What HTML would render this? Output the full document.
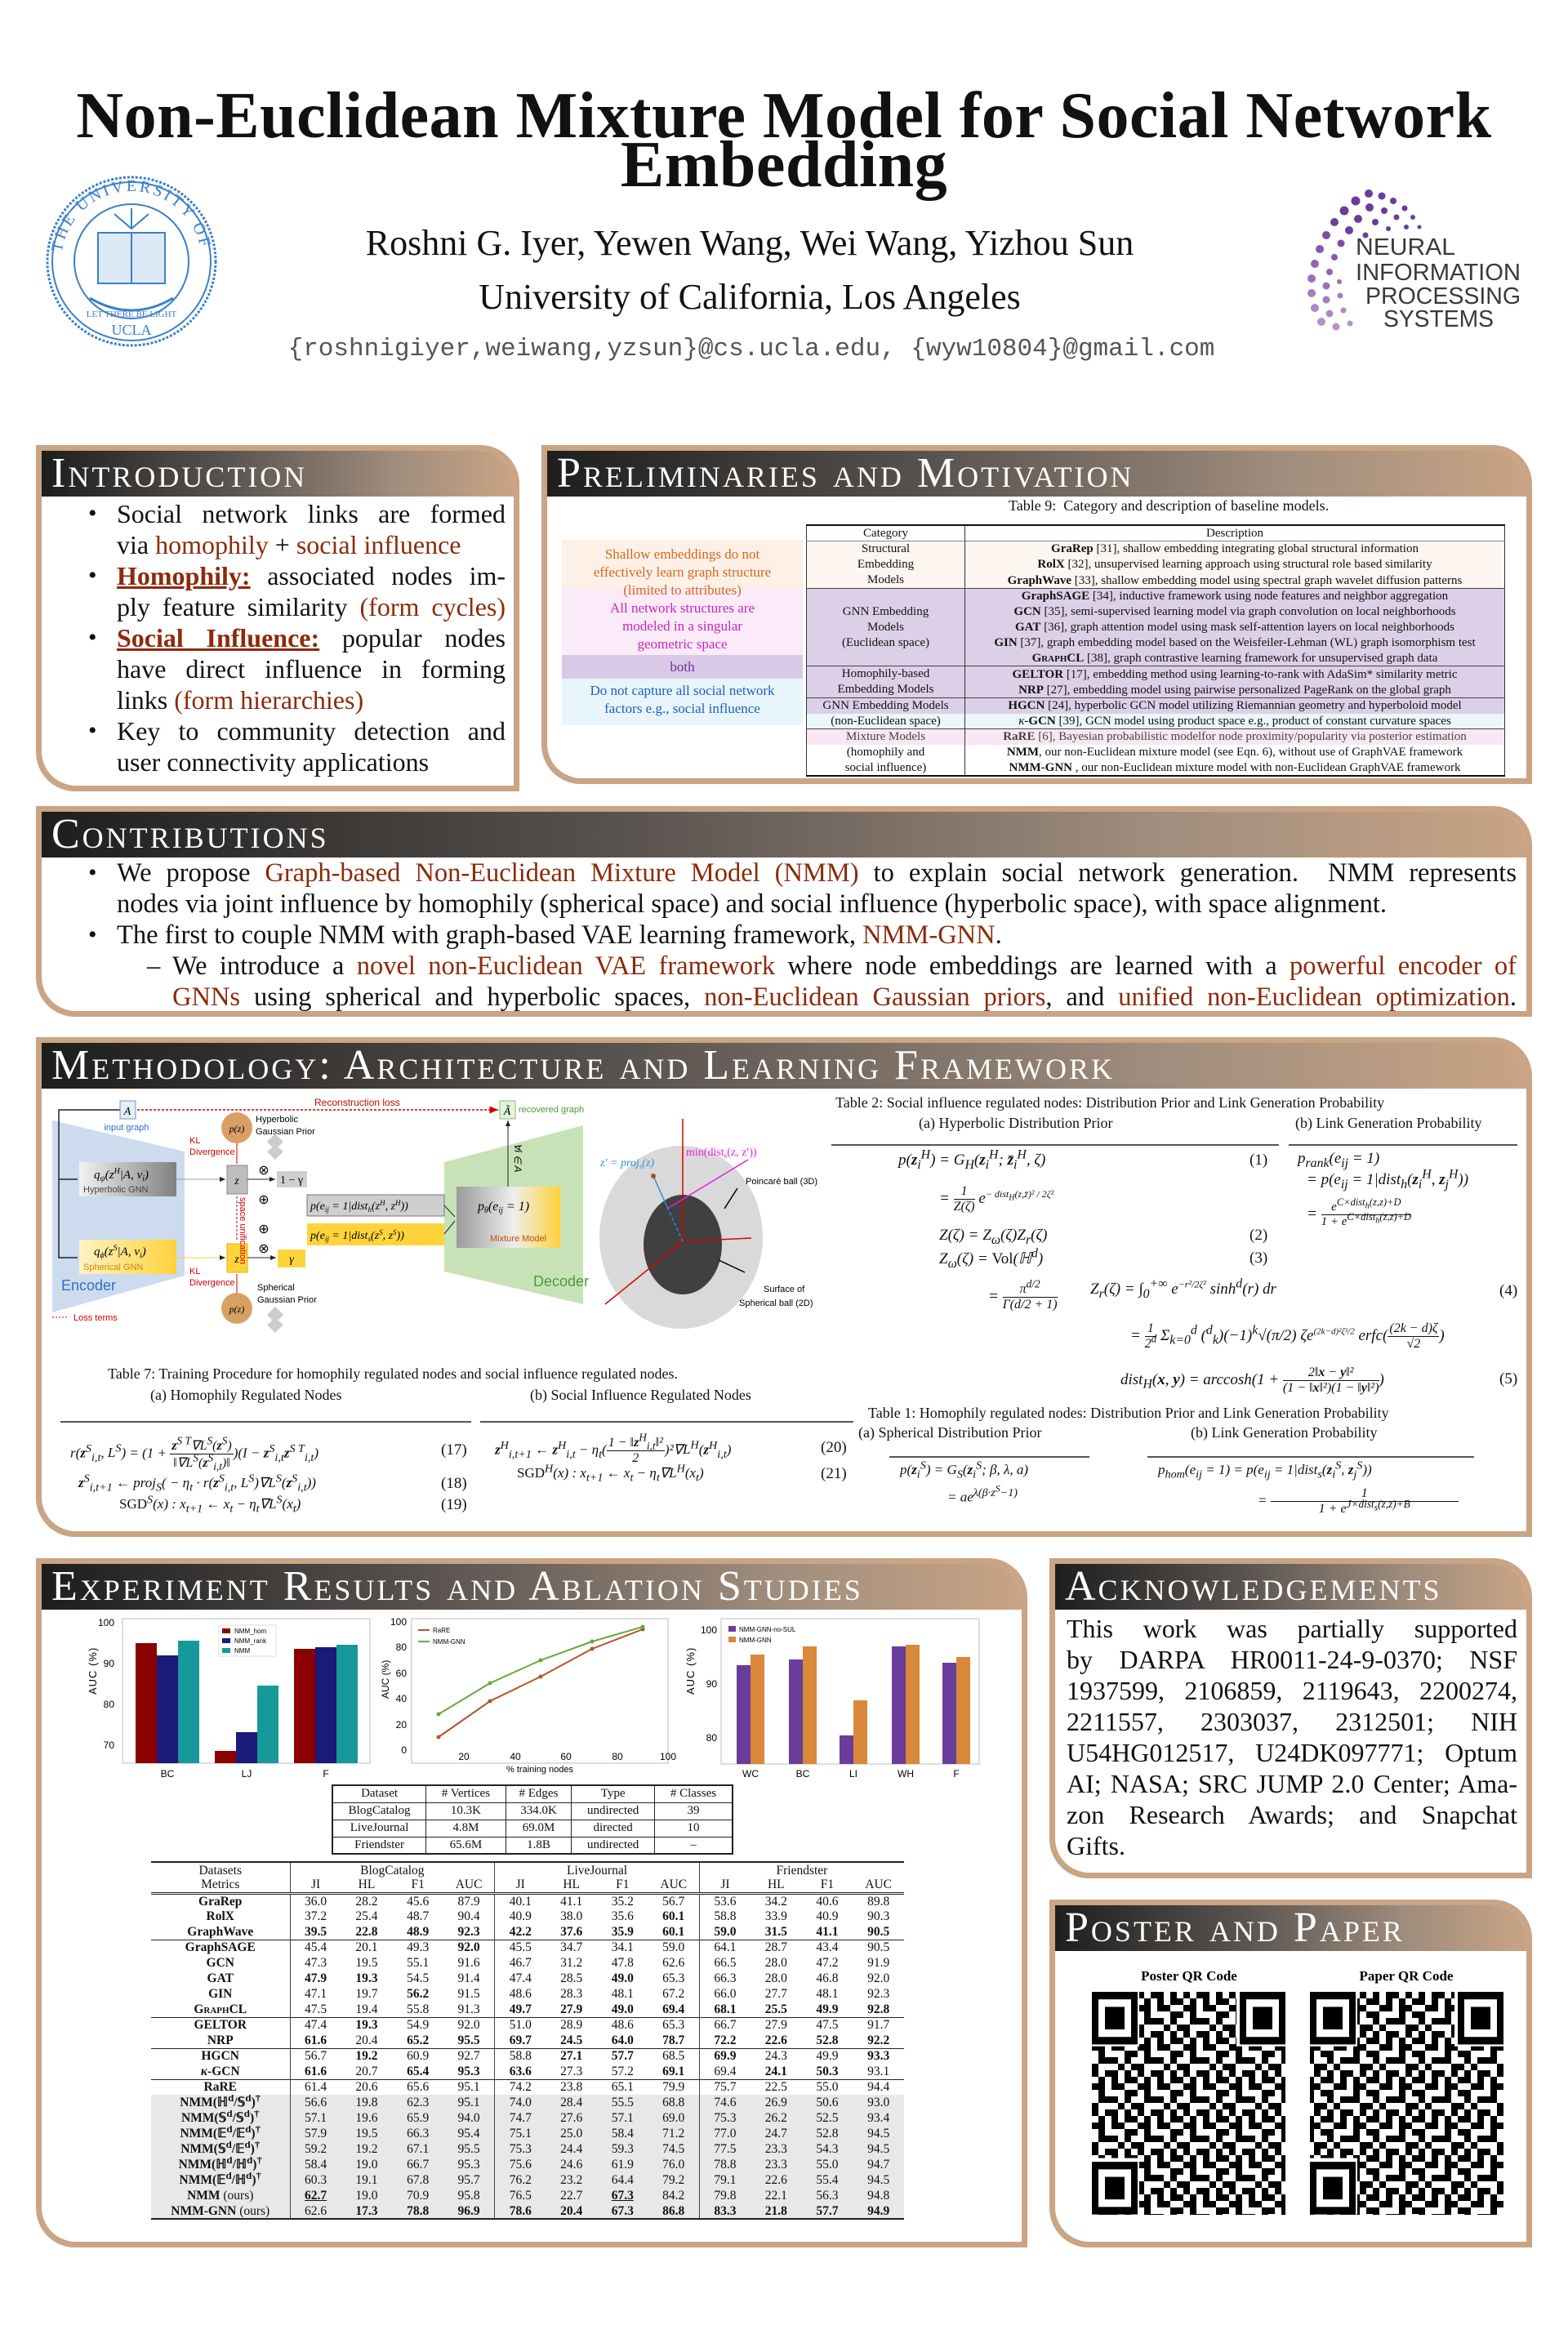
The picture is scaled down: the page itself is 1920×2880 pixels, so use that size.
<!DOCTYPE html>
<html><head><meta charset="utf-8">
<style>
*{margin:0;padding:0;box-sizing:border-box}
body{width:1920px;height:2880px;position:relative;background:#fff;font-family:"Liberation Serif",serif;color:#111;overflow:hidden}
sup,sub{line-height:0}
.a{position:absolute;white-space:nowrap}
.box{position:absolute;background:#c9a485;border-radius:0 48px 0 48px}
.box .in{position:absolute;left:7px;right:7px;top:7px;bottom:7px;background:#fff;border-radius:0 42px 0 42px}
.box .hd{position:absolute;left:7px;right:7px;top:7px;height:56px;border-radius:0 42px 0 0;background:linear-gradient(90deg,#1e1e1e 0%,#5a5450 40%,#a08d7d 75%,#c9a485 100%)}
.box .hd span{position:absolute;left:12px;top:0px;font-size:52px;line-height:56px;color:#fff;font-variant:small-caps;letter-spacing:3px}
.ln{position:absolute;white-space:nowrap;height:38px;line-height:38px}
.j{text-align:justify;text-align-last:justify;white-space:normal}
.r{color:#8b2a0a}
.b{font-weight:bold}
.bul{position:absolute;font-size:30px}
table{border-collapse:collapse}
.t9 td{height:19px;line-height:18px;font-size:15px;padding:0 3px;text-align:center;white-space:nowrap}
.rt td{height:19px;line-height:17px;font-size:15.5px;text-align:center;padding:0;white-space:nowrap;overflow:hidden}
.rt tr{height:19px}
.eq{position:absolute;white-space:nowrap;font-size:19px;font-style:italic}
.eq .n{font-style:normal}
.fr{display:inline-flex;flex-direction:column;vertical-align:middle;text-align:center;font-size:16px}
.fr>span:first-child{border-bottom:1px solid #111;padding:0 2px}
.cap{position:absolute;white-space:nowrap;font-size:18px}
.rule{position:absolute;height:1.5px;background:#555}
</style></head><body>

<!-- Title -->
<div class="a" style="left:0;width:1920px;top:112px;text-align:center;font-size:80px;line-height:60px;font-weight:bold;letter-spacing:0.5px">Non-Euclidean Mixture Model for Social Network<br>Embedding</div>
<div class="a" style="left:0;width:1836px;top:272px;text-align:center;font-size:44px">Roshni G. Iyer, Yewen Wang, Wei Wang, Yizhou Sun</div>
<div class="a" style="left:0;width:1836px;top:338px;text-align:center;font-size:44px">University of California, Los Angeles</div>
<div class="a" style="left:0;width:1840px;top:410px;text-align:center;font-size:31px;font-family:'Liberation Mono',monospace;color:#555">{roshnigiyer,weiwang,yzsun}@cs.ucla.edu, {wyw10804}@gmail.com</div>

<!-- Boxes -->
<div class="box" style="left:44px;top:545px;width:592px;height:424px"><div class="in"></div><div class="hd"><span>Introduction</span></div></div>
<div class="box" style="left:663px;top:545px;width:1213px;height:415px"><div class="in"></div><div class="hd"><span>Preliminaries and Motivation</span></div></div>
<div class="box" style="left:44px;top:987px;width:1832px;height:258px"><div class="in"></div><div class="hd"><span>Contributions</span></div></div>
<div class="box" style="left:44px;top:1270px;width:1832px;height:612px"><div class="in"></div><div class="hd"><span>Methodology: Architecture and Learning Framework</span></div></div>
<div class="box" style="left:44px;top:1908px;width:1214px;height:844px"><div class="in"></div><div class="hd"><span>Experiment Results and Ablation Studies</span></div></div>
<div class="box" style="left:1285px;top:1908px;width:591px;height:392px"><div class="in"></div><div class="hd"><span>Acknowledgements</span></div></div>
<div class="box" style="left:1285px;top:2326px;width:591px;height:426px"><div class="in"></div><div class="hd"><span>Poster and Paper</span></div></div>

<!-- Intro text -->
<div style="position:absolute;left:0;top:0;font-size:32px">
<div class="bul" style="left:108px;top:612px">•</div>
<div class="ln j" style="left:143px;top:610px;width:476px">Social network links are formed</div>
<div class="ln" style="left:143px;top:648px">via <span class="r">homophily</span> + <span class="r">social influence</span></div>
<div class="bul" style="left:108px;top:688px">•</div>
<div class="ln j" style="left:143px;top:686px;width:476px"><span class="r b" style="text-decoration:underline">Homophily:</span> associated nodes im-</div>
<div class="ln j" style="left:143px;top:724px;width:476px">ply feature similarity <span class="r">(form cycles)</span></div>
<div class="bul" style="left:108px;top:764px">•</div>
<div class="ln j" style="left:143px;top:762px;width:476px"><span class="r b" style="text-decoration:underline">Social Influence:</span> popular nodes</div>
<div class="ln j" style="left:143px;top:800px;width:476px">have direct influence in forming</div>
<div class="ln" style="left:143px;top:838px">links <span class="r">(form hierarchies)</span></div>
<div class="bul" style="left:108px;top:878px">•</div>
<div class="ln j" style="left:143px;top:876px;width:476px">Key to community detection and</div>
<div class="ln" style="left:143px;top:914px">user connectivity applications</div>
</div>

<!-- Contributions text -->
<div style="position:absolute;left:0;top:0;font-size:32.5px">
<div class="bul" style="left:108px;top:1052px">•</div>
<div class="ln j" style="left:143px;top:1050px;width:1714px">We propose <span class="r">Graph-based Non-Euclidean Mixture Model (NMM)</span> to explain social network generation.&nbsp; NMM represents</div>
<div class="ln" style="left:143px;top:1088px">nodes via joint influence by homophily (spherical space) and social influence (hyperbolic space), with space alignment.</div>
<div class="bul" style="left:108px;top:1128px">•</div>
<div class="ln" style="left:143px;top:1126px">The first to couple NMM with graph-based VAE learning framework, <span class="r">NMM-GNN</span>.</div>
<div class="ln" style="left:180px;top:1164px">–</div>
<div class="ln j" style="left:211px;top:1164px;width:1646px">We introduce a <span class="r">novel non-Euclidean VAE framework</span> where node embeddings are learned with a <span class="r">powerful encoder of</span></div>
<div class="ln j" style="left:211px;top:1202px;width:1646px"><span class="r">GNNs</span> using spherical and hyperbolic spaces, <span class="r">non-Euclidean Gaussian priors</span>, and <span class="r">unified non-Euclidean optimization</span>.</div>
</div>

<!-- Preliminaries left colored box -->
<div style="position:absolute;left:688px;top:661px;width:295px;font-size:17px;line-height:22px;text-align:center">
<div style="height:59px;background:#fdf0e6;color:#d2691e;padding-top:7px">Shallow embeddings do not<br>effectively learn graph structure<br>(limited to attributes)</div>
<div style="height:82px;background:#fbeaf7;color:#c02ac0;padding-top:14px">All network structures are<br>modeled in a singular<br>geometric space</div>
<div style="height:29px;background:#d9c8e6;color:#7030a0;padding-top:4px">both</div>
<div style="height:57px;background:#e8f6fb;color:#1f5fbf;padding-top:4px">Do not capture all social network<br>factors e.g., social influence</div>
</div>
<div class="cap" style="left:1235px;top:609px;font-size:18px">Table 9:&nbsp; Category and description of baseline models.</div>
<table class="t9" style="position:absolute;left:987px;top:642px;width:856px;border-top:2.5px solid #111;border-bottom:2.5px solid #111;border-left:1px solid #333;border-right:1px solid #333">
<colgroup><col style="width:194px"><col></colgroup>
<tr style="border-bottom:1.5px solid #888"><td style="border-right:1px solid #333">Category</td><td>Description</td></tr>
<tr style="background:#fdf6f0"><td rowspan="3" style="border-right:1px solid #333;line-height:19px">Structural<br>Embedding<br>Models</td><td><b>GraRep</b> [31], shallow embedding integrating global structural information</td></tr>
<tr style="background:#fdf6f0"><td><b>RolX</b> [32], unsupervised learning approach using structural role based similarity</td></tr>
<tr style="background:#fdf6f0;border-bottom:1.5px solid #444"><td><b>GraphWave</b> [33], shallow embedding model using spectral graph wavelet diffusion patterns</td></tr>
<tr style="background:#dcd0e8"><td rowspan="5" style="border-right:1px solid #333;line-height:19px">GNN Embedding<br>Models<br>(Euclidean space)</td><td><b>GraphSAGE</b> [34], inductive framework using node features and neighbor aggregation</td></tr>
<tr style="background:#dcd0e8"><td><b>GCN</b> [35], semi-supervised learning model via graph convolution on local neighborhoods</td></tr>
<tr style="background:#dcd0e8"><td><b>GAT</b> [36], graph attention model using mask self-attention layers on local neighborhoods</td></tr>
<tr style="background:#dcd0e8"><td><b>GIN</b> [37], graph embedding model based on the Weisfeiler-Lehman (WL) graph isomorphism test</td></tr>
<tr style="background:#dcd0e8;border-bottom:1.5px solid #444"><td><b style="font-variant:small-caps">GraphCL</b> [38], graph contrastive learning framework for unsupervised graph data</td></tr>
<tr style="background:#dcd0e8"><td rowspan="2" style="border-right:1px solid #333;line-height:19px">Homophily-based<br>Embedding Models</td><td><b>GELTOR</b> [17], embedding method using learning-to-rank with AdaSim* similarity metric</td></tr>
<tr style="background:#dcd0e8;border-bottom:1.5px solid #444"><td><b>NRP</b> [27], embedding model using pairwise personalized PageRank on the global graph</td></tr>
<tr style="background:#dcd0e8"><td style="border-right:1px solid #333">GNN Embedding Models</td><td><b>HGCN</b> [24], hyperbolic GCN model utilizing Riemannian geometry and hyperboloid model</td></tr>
<tr style="background:#eaf7fb;border-bottom:1.5px solid #444"><td style="border-right:1px solid #333">(non-Euclidean space)</td><td><i>κ</i>-<b>GCN</b> [39], GCN model using product space e.g., product of constant curvature spaces</td></tr>
<tr style="background:#f9e8f3;color:#444"><td style="border-right:1px solid #333">Mixture Models</td><td><b>RaRE</b> [6], Bayesian probabilistic modelfor node proximity/popularity via posterior estimation</td></tr>
<tr><td style="border-right:1px solid #333">(homophily and</td><td><b>NMM</b>, our non-Euclidean mixture model (see Eqn. 6), without use of GraphVAE framework</td></tr>
<tr><td style="border-right:1px solid #333">social influence)</td><td><b>NMM-GNN</b> , our non-Euclidean mixture model with non-Euclidean GraphVAE framework</td></tr>
</table>

<!-- Big SVG graphics -->
<svg style="position:absolute;left:0;top:0" width="1920" height="2880" xmlns="http://www.w3.org/2000/svg" font-family="Liberation Sans, sans-serif">
<defs>
<linearGradient id="gg" x1="0" x2="1"><stop offset="0" stop-color="#f2f2f2"/><stop offset="1" stop-color="#808080"/></linearGradient>
<linearGradient id="gy" x1="0" x2="1"><stop offset="0" stop-color="#fff3c4"/><stop offset="1" stop-color="#ffd23a"/></linearGradient>
<linearGradient id="gm" x1="0" x2="1"><stop offset="0" stop-color="#9a9a9a"/><stop offset="0.55" stop-color="#eeeeee"/><stop offset="1" stop-color="#ffd23a"/></linearGradient>
<pattern id="qr" width="56" height="48" patternUnits="userSpaceOnUse">
<rect x="0" y="0" width="8" height="8"/><rect x="16" y="0" width="16" height="8"/><rect x="40" y="0" width="8" height="16"/>
<rect x="8" y="8" width="8" height="8"/><rect x="24" y="8" width="8" height="16"/><rect x="48" y="8" width="8" height="8"/>
<rect x="0" y="16" width="16" height="8"/><rect x="32" y="16" width="8" height="8"/><rect x="48" y="24" width="8" height="8"/>
<rect x="8" y="24" width="8" height="16"/><rect x="16" y="32" width="16" height="8"/><rect x="40" y="32" width="8" height="8"/>
<rect x="0" y="40" width="8" height="8"/><rect x="32" y="40" width="8" height="8"/><rect x="48" y="40" width="8" height="8"/><rect x="40" y="24" width="8" height="8"/>
</pattern>
<marker id="ar" markerWidth="8" markerHeight="8" refX="7" refY="4" orient="auto"><path d="M0,1 L7,4 L0,7z" fill="#222"/></marker>
<marker id="arr" markerWidth="8" markerHeight="8" refX="7" refY="4" orient="auto"><path d="M0,1 L7,4 L0,7z" fill="#c00"/></marker>
<path id="seal" d="M 75,320 A 86,86 0 1 1 247,320"/>
</defs>

<!-- UCLA seal -->
<g stroke="#3a80c8" fill="none">
<circle cx="161" cy="320" r="103" stroke-width="3" stroke-dasharray="3 2"/>
<circle cx="161" cy="320" r="97" stroke-width="2"/>
<circle cx="161" cy="320" r="70" stroke-width="2"/>
<rect x="120" y="285" width="82" height="62" fill="#dde9f6" stroke-width="2"/>
<line x1="161" y1="285" x2="161" y2="347" stroke-width="2"/>
<path d="M161,255 L161,280 M140,262 L161,280 L182,262" stroke-width="2"/>
<path d="M110,365 Q161,395 212,365" stroke-width="3"/>
</g>
<text font-family="Liberation Serif,serif" font-size="20" fill="#3a80c8" letter-spacing="3"><textPath href="#seal" startOffset="4%">THE UNIVERSITY OF CALIFORNIA</textPath></text>
<text x="161" y="410" font-family="Liberation Serif,serif" font-size="18" fill="#3a80c8" text-anchor="middle">UCLA</text>
<text x="161" y="388" font-family="Liberation Serif,serif" font-size="11" fill="#3a80c8" text-anchor="middle">LET THERE BE LIGHT</text>

<!-- NeurIPS logo -->
<g fill="#6a3d9a">
<circle cx="1676" cy="237" r="5"/><circle cx="1692" cy="240" r="4.5"/><circle cx="1706" cy="246" r="4"/><circle cx="1720" cy="255" r="3.5"/><circle cx="1730" cy="266" r="3"/><circle cx="1738" cy="278" r="2.5"/>
<circle cx="1660" cy="246" r="5.5"/><circle cx="1677" cy="254" r="5"/><circle cx="1695" cy="258" r="4"/><circle cx="1710" cy="266" r="3.5"/><circle cx="1722" cy="278" r="3"/>
<circle cx="1646" cy="258" r="5.5"/><circle cx="1663" cy="268" r="5"/><circle cx="1684" cy="272" r="4"/><circle cx="1700" cy="280" r="3"/>
<circle cx="1634" cy="272" r="5"/><circle cx="1652" cy="282" r="5"/><circle cx="1672" cy="288" r="3.5"/>
<circle cx="1624" cy="288" r="5" fill="#7b4da8"/><circle cx="1642" cy="298" r="4.5" fill="#7b4da8"/>
<circle cx="1616" cy="305" r="5" fill="#8658b0"/><circle cx="1634" cy="315" r="4" fill="#8658b0"/>
<circle cx="1610" cy="323" r="5" fill="#9064b5"/><circle cx="1628" cy="333" r="4" fill="#9064b5"/>
<circle cx="1606" cy="341" r="5" fill="#9a70ba"/><circle cx="1624" cy="350" r="4.5" fill="#9a70ba"/><circle cx="1640" cy="345" r="3" fill="#9a70ba"/>
<circle cx="1606" cy="359" r="5" fill="#a47cc0"/><circle cx="1624" cy="367" r="4.5" fill="#a47cc0"/><circle cx="1641" cy="362" r="3.5" fill="#a47cc0"/>
<circle cx="1610" cy="377" r="5" fill="#ad88c6"/><circle cx="1628" cy="384" r="4.5" fill="#ad88c6"/><circle cx="1645" cy="380" r="3.5" fill="#ad88c6"/>
<circle cx="1618" cy="394" r="5" fill="#b592ca"/><circle cx="1636" cy="400" r="4.5" fill="#b592ca"/><circle cx="1653" cy="396" r="3.5" fill="#b592ca"/>
</g>
<g font-size="29" fill="#3a3a3a">
<text x="1660" y="312" textLength="122" lengthAdjust="spacingAndGlyphs">NEURAL</text>
<text x="1660" y="343" textLength="202" lengthAdjust="spacingAndGlyphs">INFORMATION</text>
<text x="1672" y="372" textLength="190" lengthAdjust="spacingAndGlyphs">PROCESSING</text>
<text x="1694" y="400" textLength="135" lengthAdjust="spacingAndGlyphs">SYSTEMS</text>
</g>

<!-- Methodology diagram -->
<polygon points="64,1372 226,1410 226,1562 64,1607" fill="#cddbef"/>
<polygon points="544,1423 714,1378 714,1597 544,1557" fill="#c8e2b8"/>
<path d="M147,1359 L72,1359 L72,1540 L95,1540 M72,1444 L95,1444" stroke="#222" stroke-width="1.5" fill="none"/>
<rect x="147" y="1348" width="19" height="22" fill="#e6eef8" stroke="#6f93c8"/><text x="156" y="1365" font-size="14" font-style="italic" text-anchor="middle" font-family="Liberation Serif">A</text>
<text x="155" y="1384" font-size="11" fill="#2e6fc4" text-anchor="middle">input graph</text>
<rect x="612" y="1348" width="19" height="22" fill="#e4f3dc" stroke="#88bb77"/><text x="621" y="1365" font-size="14" font-style="italic" text-anchor="middle" font-family="Liberation Serif">Ã</text>
<text x="635" y="1362" font-size="11" fill="#4a9a3a">recovered graph</text>
<line x1="168" y1="1359" x2="610" y2="1359" stroke="#c00" stroke-width="1.5" stroke-dasharray="3 2" marker-end="url(#arr)"/>
<text x="385" y="1354" font-size="12" fill="#c00">Reconstruction loss</text>
<rect x="97" y="1423" width="119" height="42" fill="url(#gg)"/>
<text x="115" y="1443" font-size="15" font-style="italic" font-family="Liberation Serif">q<tspan font-size="10" dy="3">ψ</tspan><tspan dy="-3">(z</tspan><tspan font-size="10" dy="-6">H</tspan><tspan dy="6">|A, v</tspan><tspan font-size="10" dy="3">i</tspan><tspan dy="-3">)</tspan></text>
<text x="102" y="1460" font-size="11" fill="#444">Hyperbolic GNN</text>
<rect x="97" y="1518" width="119" height="42" fill="url(#gy)"/>
<text x="115" y="1537" font-size="15" font-style="italic" font-family="Liberation Serif">q<tspan font-size="10" dy="3">ϕ</tspan><tspan dy="-3">(z</tspan><tspan font-size="10" dy="-6">S</tspan><tspan dy="6">|A, v</tspan><tspan font-size="10" dy="3">i</tspan><tspan dy="-3">)</tspan></text>
<text x="102" y="1555" font-size="11" fill="#c98a00">Spherical GNN</text>
<text x="75" y="1580" font-size="18" fill="#2e6fc4">Encoder</text>
<text x="653" y="1575" font-size="18" fill="#4a9a3a">Decoder</text>
<line x1="216" y1="1444" x2="276" y2="1444" stroke="#999" marker-end="url(#ar)"/>
<line x1="216" y1="1540" x2="276" y2="1540" stroke="#f5c842" marker-end="url(#ar)"/>
<rect x="278" y="1427" width="25" height="35" fill="#bdbdbd" stroke="#888"/><text x="290" y="1450" font-size="14" font-style="italic" text-anchor="middle" font-family="Liberation Serif">z</text>
<rect x="278" y="1523" width="25" height="35" fill="#ffd43b" stroke="#e0b000"/><text x="290" y="1546" font-size="14" font-style="italic" text-anchor="middle" font-family="Liberation Serif">z</text>
<line x1="290" y1="1465" x2="290" y2="1520" stroke="#c00" stroke-dasharray="3 2"/>
<text transform="translate(294,1466) rotate(90)" font-size="11" fill="#c00">space unification</text>
<circle cx="290" cy="1381" r="19" fill="#d9a066"/><text x="290" y="1386" font-size="12" font-style="italic" text-anchor="middle" font-family="Liberation Serif">p(z)</text>
<circle cx="290" cy="1602" r="19" fill="#d9a066"/><text x="290" y="1607" font-size="12" font-style="italic" text-anchor="middle" font-family="Liberation Serif">p(z)</text>
<line x1="290" y1="1400" x2="290" y2="1425" stroke="#c00"/><line x1="290" y1="1560" x2="290" y2="1583" stroke="#c00"/>
<text x="232" y="1400" font-size="11" fill="#c00">KL</text><text x="232" y="1414" font-size="11" fill="#c00">Divergence</text>
<text x="232" y="1560" font-size="11" fill="#c00">KL</text><text x="232" y="1574" font-size="11" fill="#c00">Divergence</text>
<text x="313" y="1374" font-size="11">Hyperbolic</text><text x="313" y="1389" font-size="11">Gaussian Prior</text>
<text x="315" y="1580" font-size="11">Spherical</text><text x="315" y="1595" font-size="11">Gaussian Prior</text>
<path d="M327,1398 l10,-10 l10,10 l-10,10z M327,1410 l10,-8 l10,8 l-10,10z" fill="#ccc"/>
<path d="M327,1610 l10,-10 l10,10 l-10,10z M327,1622 l10,-8 l10,8 l-10,10z" fill="#ccc"/>
<text x="323" y="1438" font-size="16" text-anchor="middle">⊗</text><text x="323" y="1534" font-size="16" text-anchor="middle">⊗</text>
<text x="323" y="1474" font-size="16" text-anchor="middle">⊕</text><text x="323" y="1510" font-size="16" text-anchor="middle">⊕</text>
<line x1="303" y1="1444" x2="337" y2="1444" stroke="#222" marker-end="url(#ar)"/><line x1="303" y1="1540" x2="338" y2="1540" stroke="#222" marker-end="url(#ar)"/>
<rect x="339" y="1434" width="37" height="20" fill="#cfcfcf"/><text x="357" y="1449" font-size="14" text-anchor="middle" font-family="Liberation Serif">1 − γ</text>
<rect x="340" y="1530" width="34" height="22" fill="#ffd43b"/><text x="357" y="1546" font-size="14" text-anchor="middle" font-style="italic" font-family="Liberation Serif">γ</text>
<rect x="376" y="1463" width="168" height="26" fill="#cfcfcf" stroke="#777"/><text x="380" y="1481" font-size="14" font-style="italic" font-family="Liberation Serif">p(e<tspan font-size="9" dy="3">ij</tspan><tspan dy="-3"> = 1|dist</tspan><tspan font-size="9" dy="3">h</tspan><tspan dy="-3">(z</tspan><tspan font-size="9" dy="-5">H</tspan><tspan dy="5">, z</tspan><tspan font-size="9" dy="-5">H</tspan><tspan dy="5">))</tspan></text>
<rect x="376" y="1498" width="168" height="27" fill="#ffd43b"/><text x="380" y="1517" font-size="14" font-style="italic" font-family="Liberation Serif">p(e<tspan font-size="9" dy="3">ij</tspan><tspan dy="-3"> = 1|dist</tspan><tspan font-size="9" dy="3">s</tspan><tspan dy="-3">(z</tspan><tspan font-size="9" dy="-5">S</tspan><tspan dy="5">, z</tspan><tspan font-size="9" dy="-5">S</tspan><tspan dy="5">))</tspan></text>
<rect x="559" y="1453" width="127" height="75" fill="url(#gm)"/>
<text x="585" y="1482" font-size="16" font-style="italic" font-family="Liberation Serif">p<tspan font-size="10" dy="3">θ</tspan><tspan dy="-3">(e</tspan><tspan font-size="10" dy="3">ij</tspan><tspan dy="-3"> = 1)</tspan></text>
<text x="600" y="1520" font-size="11" fill="#c05000">Mixture Model</text>
<line x1="544" y1="1476" x2="557" y2="1490" stroke="#222"/><line x1="544" y1="1511" x2="557" y2="1495" stroke="#222"/>
<line x1="622" y1="1453" x2="622" y2="1372" stroke="#222" marker-end="url(#ar)"/>
<text transform="translate(630,1400) rotate(90)" font-size="12" font-style="italic">∀i ∈ A</text>
<line x1="64" y1="1613" x2="82" y2="1613" stroke="#c00" stroke-dasharray="2 2"/><text x="90" y="1617" font-size="11" fill="#c00">Loss terms</text>
<!-- ball -->
<ellipse cx="834" cy="1515" rx="100" ry="112" fill="#d9d9d9"/>
<ellipse cx="836" cy="1524" rx="48" ry="61" fill="#404040"/>
<line x1="836" y1="1370" x2="836" y2="1520" stroke="#d00" stroke-width="1.5"/>
<line x1="836" y1="1520" x2="920" y2="1516" stroke="#d00" stroke-width="1.5"/>
<line x1="836" y1="1520" x2="741" y2="1597" stroke="#d00" stroke-width="1.5"/>
<line x1="817" y1="1480" x2="916" y2="1420" stroke="#e020e0" stroke-width="1.5"/>
<line x1="800" y1="1440" x2="817" y2="1478" stroke="#2a8fe0" stroke-width="1.5"/>
<line x1="817" y1="1478" x2="836" y2="1520" stroke="#2a8fe0" stroke-width="1.5" stroke-dasharray="4 3"/>
<circle cx="800" cy="1440" r="3" fill="#a0522d"/>
<text x="735" y="1428" font-size="14" font-style="italic" fill="#2a8fe0" font-family="Liberation Serif">z′ = proj<tspan font-size="9" dy="3">s</tspan><tspan dy="-3">(z)</tspan></text>
<text x="840" y="1415" font-size="14" fill="#e020e0" font-family="Liberation Serif">min(dist<tspan font-size="9" dy="3">s</tspan><tspan dy="-3">(z, z′))</tspan></text>
<text x="913" y="1450" font-size="11">Poincaré ball (3D)</text>
<line x1="903" y1="1455" x2="887" y2="1480" stroke="#000" stroke-width="1.5"/>
<line x1="880" y1="1543" x2="912" y2="1558" stroke="#000" stroke-width="1.5"/>
<text x="935" y="1582" font-size="11">Surface of</text><text x="905" y="1599" font-size="11">Spherical ball (2D)</text>

<!-- Chart 1 -->
<g font-size="12">
<rect x="150" y="1982" width="303" height="177" fill="none" stroke="#bbb"/>
<text x="140" y="1991" text-anchor="end">100</text><text x="140" y="2041" text-anchor="end">90</text><text x="140" y="2091" text-anchor="end">80</text><text x="140" y="2141" text-anchor="end">70</text>
<text transform="translate(118,2075) rotate(-90)" font-size="13" letter-spacing="1">AUC (%)</text>
<rect x="166" y="2012" width="26" height="147" fill="#8b0000"/><rect x="192" y="2027" width="26" height="132" fill="#1a1a78"/><rect x="218" y="2009" width="26" height="150" fill="#17989a"/>
<rect x="263" y="2144" width="26" height="15" fill="#8b0000"/><rect x="289" y="2121" width="26" height="38" fill="#1a1a78"/><rect x="315" y="2064" width="26" height="95" fill="#17989a"/>
<rect x="360" y="2019" width="26" height="140" fill="#8b0000"/><rect x="386" y="2017" width="26" height="142" fill="#1a1a78"/><rect x="412" y="2014" width="26" height="145" fill="#17989a"/>
<text x="205" y="2176" text-anchor="middle">BC</text><text x="302" y="2176" text-anchor="middle">LJ</text><text x="399" y="2176" text-anchor="middle">F</text>
<rect x="268" y="1990" width="70" height="38" fill="#fff" stroke="#ddd"/>
<rect x="272" y="1994" width="10" height="6" fill="#8b0000"/><text x="287" y="2000" font-size="8">NMM_hom</text>
<rect x="272" y="2006" width="10" height="6" fill="#1a1a78"/><text x="287" y="2012" font-size="8">NMM_rank</text>
<rect x="272" y="2018" width="10" height="6" fill="#17989a"/><text x="287" y="2024" font-size="8">NMM</text>
</g>
<!-- Chart 2 -->
<g font-size="12">
<rect x="504" y="1982" width="314" height="177" fill="none" stroke="#bbb"/>
<text x="498" y="1990" text-anchor="end">100</text><text x="498" y="2021" text-anchor="end">80</text><text x="498" y="2053" text-anchor="end">60</text><text x="498" y="2084" text-anchor="end">40</text><text x="498" y="2116" text-anchor="end">20</text><text x="498" y="2147" text-anchor="end">0</text>
<text transform="translate(476,2080) rotate(-90)" font-size="12">AUC (%)</text>
<text x="568" y="2155" text-anchor="middle">20</text><text x="631" y="2155" text-anchor="middle">40</text><text x="693" y="2155" text-anchor="middle">60</text><text x="756" y="2155" text-anchor="middle">80</text><text x="818" y="2155" text-anchor="middle">100</text>
<text x="661" y="2170" text-anchor="middle" font-size="11">% training nodes</text>
<polyline points="537,2127 600,2083 662,2053 725,2019 787,1995" fill="none" stroke="#b5532d" stroke-width="2"/>
<polyline points="537,2099 600,2061 662,2033 725,2010 787,1992" fill="none" stroke="#6aa83a" stroke-width="2"/>
<g fill="#b5532d"><circle cx="537" cy="2127" r="2.5"/><circle cx="600" cy="2083" r="2.5"/><circle cx="662" cy="2053" r="2.5"/><circle cx="725" cy="2019" r="2.5"/><circle cx="787" cy="1995" r="2.5"/></g>
<g fill="#6aa83a"><circle cx="537" cy="2099" r="2.5"/><circle cx="600" cy="2061" r="2.5"/><circle cx="662" cy="2033" r="2.5"/><circle cx="725" cy="2010" r="2.5"/><circle cx="787" cy="1992" r="2.5"/></g>
<line x1="512" y1="1996" x2="526" y2="1996" stroke="#b5532d" stroke-width="2"/><text x="530" y="1999" font-size="8">RaRE</text>
<line x1="512" y1="2010" x2="526" y2="2010" stroke="#6aa83a" stroke-width="2"/><text x="530" y="2013" font-size="8">NMM-GNN</text>
</g>
<!-- Chart 3 -->
<g font-size="12">
<rect x="883" y="1982" width="316" height="178" fill="none" stroke="#bbb"/>
<text x="878" y="2000" text-anchor="end">100</text><text x="878" y="2066" text-anchor="end">90</text><text x="878" y="2132" text-anchor="end">80</text>
<text transform="translate(850,2075) rotate(-90)" font-size="13" letter-spacing="1">AUC (%)</text>
<rect x="902" y="2039" width="17" height="121" fill="#6a3d9a"/><rect x="919" y="2026" width="17" height="134" fill="#d9893a"/>
<rect x="966" y="2032" width="17" height="128" fill="#6a3d9a"/><rect x="983" y="2016" width="17" height="144" fill="#d9893a"/>
<rect x="1028" y="2125" width="17" height="35" fill="#6a3d9a"/><rect x="1045" y="2082" width="17" height="78" fill="#d9893a"/>
<rect x="1092" y="2016" width="17" height="144" fill="#6a3d9a"/><rect x="1109" y="2014" width="17" height="146" fill="#d9893a"/>
<rect x="1154" y="2036" width="17" height="124" fill="#6a3d9a"/><rect x="1171" y="2029" width="17" height="131" fill="#d9893a"/>
<text x="919" y="2176" text-anchor="middle">WC</text><text x="983" y="2176" text-anchor="middle">BC</text><text x="1045" y="2176" text-anchor="middle">LI</text><text x="1109" y="2176" text-anchor="middle">WH</text><text x="1171" y="2176" text-anchor="middle">F</text>
<rect x="892" y="1991" width="9" height="7" fill="#6a3d9a"/><text x="905" y="1998" font-size="8">NMM-GNN-no-SUL</text>
<rect x="892" y="2004" width="9" height="7" fill="#d9893a"/><text x="905" y="2011" font-size="8">NMM-GNN</text>
</g>

<!-- QR codes -->
<text x="1456" y="2425" font-size="17" font-weight="bold" text-anchor="middle" font-family="Liberation Serif">Poster QR Code</text>
<text x="1722" y="2425" font-size="17" font-weight="bold" text-anchor="middle" font-family="Liberation Serif">Paper QR Code</text>
<g transform="translate(1337,2439)">
<rect width="237" height="273" fill="url(#qr)"/>
<g transform="scale(1,1.15)">
<rect x="0" y="0" width="58" height="58" fill="#fff"/><rect x="0" y="0" width="56" height="56"/><rect x="8" y="8" width="40" height="40" fill="#fff"/><rect x="16" y="16" width="24" height="24"/>
<rect x="177" y="0" width="60" height="58" fill="#fff"/><rect x="181" y="0" width="56" height="56"/><rect x="189" y="8" width="40" height="40" fill="#fff"/><rect x="197" y="16" width="24" height="24"/>
<rect x="0" y="177" width="58" height="60" fill="#fff"/><rect x="0" y="181" width="56" height="56"/><rect x="8" y="189" width="40" height="40" fill="#fff"/><rect x="16" y="197" width="24" height="24"/>
</g></g>
<g transform="translate(1604,2439)">
<rect width="237" height="273" fill="url(#qr)" transform="translate(237,0) scale(-1,1)"/>
<g transform="scale(1,1.15)">
<rect x="0" y="0" width="58" height="58" fill="#fff"/><rect x="0" y="0" width="56" height="56"/><rect x="8" y="8" width="40" height="40" fill="#fff"/><rect x="16" y="16" width="24" height="24"/>
<rect x="177" y="0" width="60" height="58" fill="#fff"/><rect x="181" y="0" width="56" height="56"/><rect x="189" y="8" width="40" height="40" fill="#fff"/><rect x="197" y="16" width="24" height="24"/>
<rect x="0" y="177" width="58" height="60" fill="#fff"/><rect x="0" y="181" width="56" height="56"/><rect x="8" y="189" width="40" height="40" fill="#fff"/><rect x="16" y="197" width="24" height="24"/>
</g></g>
</svg>

<!-- Methodology equations -->
<div class="cap" style="left:1023px;top:1340px">Table 2: Social influence regulated nodes: Distribution Prior and Link Generation Probability</div>
<div class="cap" style="left:1125px;top:1365px">(a) Hyperbolic Distribution Prior</div>
<div class="cap" style="left:1586px;top:1365px">(b) Link Generation Probability</div>
<div class="rule" style="left:1018px;top:1401px;width:548px"></div>
<div class="rule" style="left:1578px;top:1401px;width:280px"></div>
<div class="eq" style="left:1100px;top:1410px"><i>p</i>(<b>z</b><sub>i</sub><sup>H</sup>) = <i>G<sub>H</sub></i>(<b>z</b><sub>i</sub><sup>H</sup>; <b>z̄</b><sub>i</sub><sup>H</sup>, ζ)</div>
<div class="eq" style="left:1530px;top:1410px"><span class="n">(1)</span></div>
<div class="eq" style="left:1150px;top:1450px">= <span class="fr"><span>1</span><span><i>Z</i>(ζ)</span></span> <i>e</i><sup style="font-size:12px">− dist<sub>H</sub>(z,z̄)² / 2ζ²</sup></div>
<div class="eq" style="left:1150px;top:1502px"><i>Z</i>(ζ) = <i>Z<sub>ω</sub></i>(ζ)<i>Z<sub>r</sub></i>(ζ)</div>
<div class="eq" style="left:1530px;top:1502px"><span class="n">(2)</span></div>
<div class="eq" style="left:1150px;top:1530px"><i>Z<sub>ω</sub></i>(ζ) = <span class="n">Vol</span>(ℍ<sup>d</sup>)</div>
<div class="eq" style="left:1530px;top:1530px"><span class="n">(3)</span></div>
<div class="eq" style="left:1210px;top:1570px">= <span class="fr"><span>π<sup>d/2</sup></span><span>Γ(<i>d</i>/2 + 1)</span></span></div>
<div class="eq" style="left:1335px;top:1568px"><i>Z<sub>r</sub></i>(ζ) = ∫<sub>0</sub><sup>+∞</sup> <i>e</i><sup style="font-size:12px">−r²/2ζ²</sup> sinh<sup>d</sup>(<i>r</i>) <i>dr</i></div>
<div class="eq" style="left:1836px;top:1570px"><span class="n">(4)</span></div>
<div class="eq" style="left:1384px;top:1618px">= <span class="fr"><span>1</span><span>2<sup>d</sup></span></span> Σ<sub>k=0</sub><sup>d</sup> (<sup>d</sup><sub>k</sub>)(−1)<sup>k</sup>√(π/2) ζ<i>e</i><sup style="font-size:11px">(2k−d)²ζ²/2</sup> erfc(<span class="fr"><span>(2<i>k</i> − <i>d</i>)ζ</span><span>√2</span></span>)</div>
<div class="eq" style="left:1372px;top:1672px">dist<sub>H</sub>(<b>x</b>, <b>y</b>) = arccosh(1 + <span class="fr"><span>2‖<b>x</b> − <b>y</b>‖²</span><span>(1 − ‖<b>x</b>‖²)(1 − ‖<b>y</b>‖²)</span></span>)</div>
<div class="eq" style="left:1836px;top:1678px"><span class="n">(5)</span></div>
<div class="eq" style="left:1589px;top:1408px"><i>p</i><sub>rank</sub>(<i>e<sub>ij</sub></i> = 1)</div>
<div class="eq" style="left:1600px;top:1434px">= <i>p</i>(<i>e<sub>ij</sub></i> = 1|dist<sub>h</sub>(<b>z</b><sub>i</sub><sup>H</sup>, <b>z</b><sub>j</sub><sup>H</sup>))</div>
<div class="eq" style="left:1600px;top:1470px">= <span class="fr" style="font-size:15px"><span><i>e</i><sup>C×dist<sub>h</sub>(z,z)+D</sup></span><span>1 + <i>e</i><sup>C×dist<sub>h</sub>(z,z)+D</sup></span></span></div>

<div class="cap" style="left:132px;top:1672px">Table 7: Training Procedure for homophily regulated nodes and social influence regulated nodes.</div>
<div class="cap" style="left:184px;top:1698px">(a) Homophily Regulated Nodes</div>
<div class="cap" style="left:649px;top:1698px">(b) Social Influence Regulated Nodes</div>
<div class="rule" style="left:74px;top:1740px;width:503px"></div>
<div class="rule" style="left:588px;top:1740px;width:457px"></div>
<div class="eq" style="left:86px;top:1760px;font-size:17px"><i>r</i>(<b>z</b><sup>S</sup><sub>i,t</sub>, <i>L<sup>S</sup></i>) = (1 + <span class="fr"><span><b>z</b><sup>S T</sup>∇<i>L<sup>S</sup></i>(<b>z</b><sup>S</sup>)</span><span>‖∇<i>L<sup>S</sup></i>(<b>z</b><sup>S</sup><sub>i,t</sub>)‖</span></span>)(<i>I</i> − <b>z</b><sup>S</sup><sub>i,t</sub><b>z</b><sup>S T</sup><sub>i,t</sub>)</div>
<div class="eq" style="left:540px;top:1765px"><span class="n">(17)</span></div>
<div class="eq" style="left:96px;top:1806px;font-size:17px"><b>z</b><sup>S</sup><sub>i,t+1</sub> ← proj<sub>S</sub>( − η<sub>t</sub> · <i>r</i>(<b>z</b><sup>S</sup><sub>i,t</sub>, <i>L<sup>S</sup></i>)∇<i>L<sup>S</sup></i>(<b>z</b><sup>S</sup><sub>i,t</sub>))</div>
<div class="eq" style="left:540px;top:1806px"><span class="n">(18)</span></div>
<div class="eq" style="left:146px;top:1832px;font-size:17px"><span class="n">SGD</span><sup>S</sup>(<i>x</i>) : <i>x</i><sub>t+1</sub> ← <i>x<sub>t</sub></i> − η<sub>t</sub>∇<i>L<sup>S</sup></i>(<i>x<sub>t</sub></i>)</div>
<div class="eq" style="left:540px;top:1832px"><span class="n">(19)</span></div>
<div class="eq" style="left:606px;top:1758px;font-size:17px"><b>z</b><sup>H</sup><sub>i,t+1</sub> ← <b>z</b><sup>H</sup><sub>i,t</sub> − η<sub>t</sub>(<span class="fr"><span>1 − ‖<b>z</b><sup>H</sup><sub>i,t</sub>‖²</span><span>2</span></span>)²∇<i>L<sup>H</sup></i>(<b>z</b><sup>H</sup><sub>i,t</sub>)</div>
<div class="eq" style="left:1005px;top:1762px"><span class="n">(20)</span></div>
<div class="eq" style="left:633px;top:1794px;font-size:17px"><span class="n">SGD</span><sup>H</sup>(<i>x</i>) : <i>x</i><sub>t+1</sub> ← <i>x<sub>t</sub></i> − η<sub>t</sub>∇<i>L<sup>H</sup></i>(<i>x<sub>t</sub></i>)</div>
<div class="eq" style="left:1005px;top:1794px"><span class="n">(21)</span></div>

<div class="cap" style="left:1063px;top:1720px">Table 1: Homophily regulated nodes: Distribution Prior and Link Generation Probability</div>
<div class="cap" style="left:1051px;top:1744px">(a) Spherical Distribution Prior</div>
<div class="cap" style="left:1458px;top:1744px">(b) Link Generation Probability</div>
<div class="rule" style="left:1089px;top:1783px;width:245px"></div>
<div class="rule" style="left:1405px;top:1783px;width:400px"></div>
<div class="eq" style="left:1102px;top:1790px;font-size:17px"><i>p</i>(<b>z</b><sub>i</sub><sup>S</sup>) = <i>G<sub>S</sub></i>(<b>z</b><sub>i</sub><sup>S</sup>; β, λ, <i>a</i>)</div>
<div class="eq" style="left:1160px;top:1822px;font-size:17px">= <i>ae</i><sup>λ(β·z<sup>S</sup>−1)</sup></div>
<div class="eq" style="left:1418px;top:1790px;font-size:17px"><i>p</i><sub>hom</sub>(<i>e<sub>ij</sub></i> = 1) = <i>p</i>(<i>e<sub>ij</sub></i> = 1|dist<sub>s</sub>(<b>z</b><sub>i</sub><sup>S</sup>, <b>z</b><sub>j</sub><sup>S</sup>))</div>
<div class="eq" style="left:1540px;top:1820px;font-size:17px">= <span class="fr" style="width:230px"><span>1</span><span>1 + <i>e</i><sup>J×dist<sub>s</sub>(z,z)+B</sup></span></span></div>

<!-- Dataset table -->
<table style="position:absolute;left:406px;top:2185px;width:492px;font-size:15px;text-align:center;border:2px solid #222" border="1">
<colgroup><col style="width:115px"><col style="width:98px"><col style="width:81px"><col style="width:102px"><col style="width:96px"></colgroup>
<tr style="height:21px"><td>Dataset</td><td># Vertices</td><td># Edges</td><td>Type</td><td># Classes</td></tr>
<tr style="height:21px"><td>BlogCatalog</td><td>10.3K</td><td>334.0K</td><td>undirected</td><td>39</td></tr>
<tr style="height:21px"><td>LiveJournal</td><td>4.8M</td><td>69.0M</td><td>directed</td><td>10</td></tr>
<tr style="height:21px"><td>Friendster</td><td>65.6M</td><td>1.8B</td><td>undirected</td><td>–</td></tr>
</table>

<!-- Results table -->
<table class="rt" style="position:absolute;left:185px;top:2279px;width:922px;table-layout:fixed;border-top:2px solid #222;border-bottom:2px solid #222">
<colgroup><col style="width:170px"><col span="12" style="width:62.67px"></colgroup>
<tr><td style="border-right:1px solid #444">Datasets</td><td colspan="4" style="border-right:1px solid #444">BlogCatalog</td><td colspan="4" style="border-right:1px solid #444">LiveJournal</td><td colspan="4">Friendster</td></tr>
<tr style="border-bottom:3px double #222"><td style="border-right:1px solid #444">Metrics</td><td>JI</td><td>HL</td><td>F1</td><td style="border-right:1px solid #444">AUC</td><td>JI</td><td>HL</td><td>F1</td><td style="border-right:1px solid #444">AUC</td><td>JI</td><td>HL</td><td>F1</td><td>AUC</td></tr>
<tbody style="border-bottom:1.5px solid #222">
<tr><td class="b" style="border-right:1px solid #444">GraRep</td><td>36.0</td><td>28.2</td><td>45.6</td><td style="border-right:1px solid #444">87.9</td><td>40.1</td><td>41.1</td><td>35.2</td><td style="border-right:1px solid #444">56.7</td><td>53.6</td><td>34.2</td><td>40.6</td><td>89.8</td></tr>
<tr><td class="b" style="border-right:1px solid #444">RolX</td><td>37.2</td><td>25.4</td><td>48.7</td><td style="border-right:1px solid #444">90.4</td><td>40.9</td><td>38.0</td><td>35.6</td><td class="b" style="border-right:1px solid #444">60.1</td><td>58.8</td><td>33.9</td><td>40.9</td><td>90.3</td></tr>
<tr class="b"><td style="border-right:1px solid #444">GraphWave</td><td>39.5</td><td>22.8</td><td>48.9</td><td style="border-right:1px solid #444">92.3</td><td>42.2</td><td>37.6</td><td>35.9</td><td style="border-right:1px solid #444">60.1</td><td>59.0</td><td>31.5</td><td>41.1</td><td>90.5</td></tr>
</tbody>
<tbody style="border-bottom:1.5px solid #222">
<tr><td class="b" style="border-right:1px solid #444">GraphSAGE</td><td>45.4</td><td>20.1</td><td>49.3</td><td class="b" style="border-right:1px solid #444">92.0</td><td>45.5</td><td>34.7</td><td>34.1</td><td style="border-right:1px solid #444">59.0</td><td>64.1</td><td>28.7</td><td>43.4</td><td>90.5</td></tr>
<tr><td class="b" style="border-right:1px solid #444">GCN</td><td>47.3</td><td>19.5</td><td>55.1</td><td style="border-right:1px solid #444">91.6</td><td>46.7</td><td>31.2</td><td>47.8</td><td style="border-right:1px solid #444">62.6</td><td>66.5</td><td>28.0</td><td>47.2</td><td>91.9</td></tr>
<tr><td class="b" style="border-right:1px solid #444">GAT</td><td class="b">47.9</td><td class="b">19.3</td><td>54.5</td><td style="border-right:1px solid #444">91.4</td><td>47.4</td><td>28.5</td><td class="b">49.0</td><td style="border-right:1px solid #444">65.3</td><td>66.3</td><td>28.0</td><td>46.8</td><td>92.0</td></tr>
<tr><td class="b" style="border-right:1px solid #444">GIN</td><td>47.1</td><td>19.7</td><td class="b">56.2</td><td style="border-right:1px solid #444">91.5</td><td>48.6</td><td>28.3</td><td>48.1</td><td style="border-right:1px solid #444">67.2</td><td>66.0</td><td>27.7</td><td>48.1</td><td>92.3</td></tr>
<tr><td class="b" style="border-right:1px solid #444;font-variant:small-caps">GraphCL</td><td>47.5</td><td>19.4</td><td>55.8</td><td style="border-right:1px solid #444">91.3</td><td class="b">49.7</td><td class="b">27.9</td><td class="b">49.0</td><td class="b" style="border-right:1px solid #444">69.4</td><td class="b">68.1</td><td class="b">25.5</td><td class="b">49.9</td><td class="b">92.8</td></tr>
</tbody>
<tbody style="border-bottom:1.5px solid #222">
<tr><td class="b" style="border-right:1px solid #444">GELTOR</td><td>47.4</td><td class="b">19.3</td><td>54.9</td><td style="border-right:1px solid #444">92.0</td><td>51.0</td><td>28.9</td><td>48.6</td><td style="border-right:1px solid #444">65.3</td><td>66.7</td><td>27.9</td><td>47.5</td><td>91.7</td></tr>
<tr class="b"><td style="border-right:1px solid #444">NRP</td><td>61.6</td><td style="font-weight:normal">20.4</td><td>65.2</td><td style="border-right:1px solid #444">95.5</td><td>69.7</td><td>24.5</td><td>64.0</td><td style="border-right:1px solid #444">78.7</td><td>72.2</td><td>22.6</td><td>52.8</td><td>92.2</td></tr>
</tbody>
<tbody style="border-bottom:1.5px solid #222">
<tr><td class="b" style="border-right:1px solid #444">HGCN</td><td>56.7</td><td class="b">19.2</td><td>60.9</td><td style="border-right:1px solid #444">92.7</td><td>58.8</td><td class="b">27.1</td><td class="b">57.7</td><td style="border-right:1px solid #444">68.5</td><td class="b">69.9</td><td>24.3</td><td>49.9</td><td class="b">93.3</td></tr>
<tr><td class="b" style="border-right:1px solid #444"><i>κ</i>-GCN</td><td class="b">61.6</td><td>20.7</td><td class="b">65.4</td><td class="b" style="border-right:1px solid #444">95.3</td><td class="b">63.6</td><td>27.3</td><td>57.2</td><td class="b" style="border-right:1px solid #444">69.1</td><td>69.4</td><td class="b">24.1</td><td class="b">50.3</td><td>93.1</td></tr>
</tbody>
<tr><td class="b" style="border-right:1px solid #444">RaRE</td><td>61.4</td><td>20.6</td><td>65.6</td><td style="border-right:1px solid #444">95.1</td><td>74.2</td><td>23.8</td><td>65.1</td><td style="border-right:1px solid #444">79.9</td><td>75.7</td><td>22.5</td><td>55.0</td><td>94.4</td></tr>
<tbody style="background:#e8e8e8">
<tr><td class="b" style="border-right:1px solid #444">NMM(ℍ<sup>d</sup>/𝕊<sup>d</sup>)<sup>†</sup></td><td>56.6</td><td>19.8</td><td>62.3</td><td style="border-right:1px solid #444">95.1</td><td>74.0</td><td>28.4</td><td>55.5</td><td style="border-right:1px solid #444">68.8</td><td>74.6</td><td>26.9</td><td>50.6</td><td>93.0</td></tr>
<tr><td class="b" style="border-right:1px solid #444">NMM(𝕊<sup>d</sup>/𝕊<sup>d</sup>)<sup>†</sup></td><td>57.1</td><td>19.6</td><td>65.9</td><td style="border-right:1px solid #444">94.0</td><td>74.7</td><td>27.6</td><td>57.1</td><td style="border-right:1px solid #444">69.0</td><td>75.3</td><td>26.2</td><td>52.5</td><td>93.4</td></tr>
<tr><td class="b" style="border-right:1px solid #444">NMM(𝔼<sup>d</sup>/𝔼<sup>d</sup>)<sup>†</sup></td><td>57.9</td><td>19.5</td><td>66.3</td><td style="border-right:1px solid #444">95.4</td><td>75.1</td><td>25.0</td><td>58.4</td><td style="border-right:1px solid #444">71.2</td><td>77.0</td><td>24.7</td><td>52.8</td><td>94.5</td></tr>
<tr><td class="b" style="border-right:1px solid #444">NMM(𝕊<sup>d</sup>/𝔼<sup>d</sup>)<sup>†</sup></td><td>59.2</td><td>19.2</td><td>67.1</td><td style="border-right:1px solid #444">95.5</td><td>75.3</td><td>24.4</td><td>59.3</td><td style="border-right:1px solid #444">74.5</td><td>77.5</td><td>23.3</td><td>54.3</td><td>94.5</td></tr>
<tr><td class="b" style="border-right:1px solid #444">NMM(ℍ<sup>d</sup>/ℍ<sup>d</sup>)<sup>†</sup></td><td>58.4</td><td>19.0</td><td>66.7</td><td style="border-right:1px solid #444">95.3</td><td>75.6</td><td>24.6</td><td>61.9</td><td style="border-right:1px solid #444">76.0</td><td>78.8</td><td>23.3</td><td>55.0</td><td>94.7</td></tr>
<tr><td class="b" style="border-right:1px solid #444">NMM(𝔼<sup>d</sup>/ℍ<sup>d</sup>)<sup>†</sup></td><td>60.3</td><td>19.1</td><td>67.8</td><td style="border-right:1px solid #444">95.7</td><td>76.2</td><td>23.2</td><td>64.4</td><td style="border-right:1px solid #444">79.2</td><td>79.1</td><td>22.6</td><td>55.4</td><td>94.5</td></tr>
<tr><td class="b" style="border-right:1px solid #444">NMM <span style="font-weight:normal">(ours)</span></td><td class="b"><u>62.7</u></td><td>19.0</td><td>70.9</td><td style="border-right:1px solid #444">95.8</td><td>76.5</td><td>22.7</td><td class="b"><u>67.3</u></td><td style="border-right:1px solid #444">84.2</td><td>79.8</td><td>22.1</td><td>56.3</td><td>94.8</td></tr>
<tr><td class="b" style="border-right:1px solid #444">NMM-GNN <span style="font-weight:normal">(ours)</span></td><td>62.6</td><td class="b">17.3</td><td class="b">78.8</td><td class="b" style="border-right:1px solid #444">96.9</td><td class="b">78.6</td><td class="b">20.4</td><td class="b">67.3</td><td class="b" style="border-right:1px solid #444">86.8</td><td class="b">83.3</td><td class="b">21.8</td><td class="b">57.7</td><td class="b">94.9</td></tr>
</tbody>
</table>

<!-- Acknowledgements -->
<div style="position:absolute;left:0;top:0;font-size:32px">
<div class="ln j" style="left:1306px;top:1975px;width:552px">This work was partially supported</div>
<div class="ln j" style="left:1306px;top:2013px;width:552px">by DARPA HR0011-24-9-0370; NSF</div>
<div class="ln j" style="left:1306px;top:2051px;width:552px">1937599, 2106859, 2119643, 2200274,</div>
<div class="ln j" style="left:1306px;top:2089px;width:552px">2211557, 2303037, 2312501; NIH</div>
<div class="ln j" style="left:1306px;top:2127px;width:552px">U54HG012517, U24DK097771; Optum</div>
<div class="ln j" style="left:1306px;top:2165px;width:552px">AI; NASA; SRC JUMP 2.0 Center; Ama-</div>
<div class="ln j" style="left:1306px;top:2203px;width:552px">zon Research Awards; and Snapchat</div>
<div class="ln" style="left:1306px;top:2241px">Gifts.</div>
</div>
</body></html>
